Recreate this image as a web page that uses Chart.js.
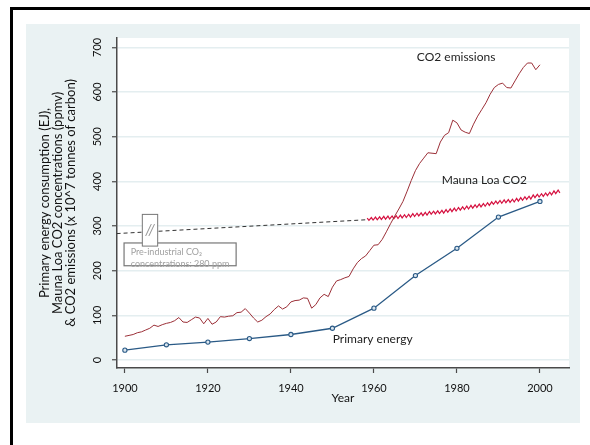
<!DOCTYPE html>
<html>
<head>
<meta charset="utf-8">
<script src="https://cdn.jsdelivr.net/npm/chart.js@4"></script>
<style>
  html, body { margin: 0; padding: 0; background: #fff; }
  #wrap { width: 590px; height: 445px; position: relative; }
</style>
</head>
<body>
<div id="wrap"><canvas id="energyChart"></canvas></div>
<script>
// Axis ticks
const xTickValues = [1900, 1920, 1940, 1960, 1980, 2000];
const yTickValues = [0, 100, 200, 300, 400, 500, 600, 700];

// Primary energy consumption (EJ), one point per decade
const energyYears = [1900, 1910, 1920, 1930, 1940, 1950, 1960, 1970, 1980, 1990, 2000];
const energyValues = [22, 34, 40, 48, 57, 71, 116, 189, 250, 320, 355];

// CO2 emissions (x 10^7 tonnes of carbon), yearly 1900-2000
const emissionsFirstYear = 1900;
const emissionsValues = [
  53, 55, 57, 61, 63, 67, 71, 78, 75, 79,
  82, 84, 88, 95, 85, 84, 90, 96, 94, 81,
  93, 80, 85, 97, 96, 98, 99, 106, 107, 115,
  105, 94, 85, 89, 97, 103, 113, 121, 114, 119,
  130, 133, 134, 139, 138, 116, 124, 139, 147, 142,
  163, 177, 180, 184, 187, 204, 218, 227, 233, 245,
  257, 258, 270, 287, 305, 322, 338, 355, 378, 402,
  424, 440, 452, 464, 463, 462, 488, 503, 509, 537,
  531, 515, 510, 507, 528, 546, 561, 576, 595, 610,
  617, 620, 610, 609, 625, 641, 655, 665, 665, 650,
  661
];

// Mauna Loa CO2 (ppmv): spring high and autumn low of each year, 1958-2004
const mlFirstYear = 1958;
const mlPeaks = [
  317.5, 318.9, 320.0, 320.6, 321.5, 322.1, 322.5, 323.0, 324.4, 325.2,
  326.3, 327.6, 328.6, 329.4, 330.6, 332.5, 333.1, 334.0, 335.0, 336.8,
  338.3, 339.9, 341.5, 343.0, 344.4, 346.0, 347.5, 348.9, 350.3, 352.0,
  354.2, 355.8, 357.1, 358.6, 359.3, 360.0, 361.7, 363.6, 365.4, 366.7,
  369.5, 371.0, 372.2, 373.9, 375.6, 378.5, 380.5
];
const mlTroughs = [
  312.5, 313.3, 313.8, 314.6, 315.2, 315.8, 316.4, 316.8, 318.1, 319.0,
  319.7, 321.3, 322.6, 323.2, 324.2, 326.5, 327.0, 328.0, 328.8, 330.7,
  332.2, 333.6, 335.6, 336.9, 338.1, 339.9, 341.5, 342.9, 344.2, 346.1,
  348.5, 349.9, 351.0, 352.1, 352.9, 353.8, 355.6, 357.6, 359.5, 360.3,
  363.6, 364.9, 366.2, 367.9, 369.9, 372.5, 374.1
];

// Pre-industrial trend line (dashed), year / ppmv
const preIndYears = [1898, 1958.2];
const preIndValues = [283, 314];

const axisColor = "#4a4a4a";
const gridColor = "#e4eef0";
const fontFamily = "Lato, 'Open Sans', sans-serif";

const emissionsPoints = emissionsValues.map((v, i) => ({ x: emissionsFirstYear + i, y: v }));
const energyPoints = energyYears.map((yr, i) => ({ x: yr, y: energyValues[i] }));
const maunaLoaPoints = [];
mlPeaks.forEach((p, i) => {
    maunaLoaPoints.push({ x: mlFirstYear + i + 0.38, y: p });
    maunaLoaPoints.push({ x: mlFirstYear + i + 0.8, y: mlTroughs[i] });
});
const preIndPoints = preIndYears.map((yr, i) => ({ x: yr, y: preIndValues[i] }));

// Background: frame, grey panel, white plot region
const backdrop = {
    id: "backdrop",
    beforeDraw(chart) {
        const { ctx, chartArea: a, width, height } = chart;
        ctx.save();
        ctx.fillStyle = "#fff";
        ctx.fillRect(0, 0, width, height);
        ctx.fillStyle = "#000";
        ctx.fillRect(10, 7, width - 10, 3);
        ctx.fillRect(10, 7, 3, height - 7);
        ctx.fillStyle = "#eaf2f3";
        ctx.fillRect(26, 24, width - 26 - 10, height - 24 - 22);
        ctx.fillStyle = "#fff";
        ctx.fillRect(a.left, a.top, a.right - a.left, a.bottom - a.top);
        ctx.restore();
    }
};

// Series labels and the pre-industrial note
const notes = {
    id: "notes",
    afterDatasetsDraw(chart) {
        const { ctx } = chart;
        const xs = v => chart.scales.x.getPixelForValue(v);
        const ys = v => chart.scales.y.getPixelForValue(v);
        ctx.save();

        ctx.fillStyle = "#222";
        ctx.font = `12px ${fontFamily}`;
        ctx.textAlign = "center";
        ctx.textBaseline = "middle";
        ctx.fillText("CO2 emissions", xs(1979.8), ys(678));
        ctx.fillText("Mauna Loa CO2", xs(1986.6), ys(403));
        ctx.fillText("Primary energy", xs(1959.7), ys(47));

        // note box
        ctx.strokeStyle = "#777";
        ctx.lineWidth = 1.2;
        ctx.strokeRect(xs(1899.8), ys(262), xs(1926.8) - xs(1899.8), ys(211) - ys(262));
        ctx.fillStyle = "#a0a0a0";
        ctx.font = `9px ${fontFamily}`;
        ctx.textAlign = "left";
        ctx.fillText("Pre-industrial CO\u2082", xs(1901.4), ys(241));
        ctx.fillText("concentrations: 280 ppm", xs(1901.4), ys(215));

        // axis break marker
        const bx = xs(1904.2), bw = xs(1907.9) - bx;
        const by = ys(326), bh = ys(255) - by;
        ctx.fillStyle = "#fff";
        ctx.fillRect(bx, by, bw, bh);
        ctx.strokeStyle = "#777";
        ctx.lineWidth = 1;
        ctx.strokeRect(bx, by, bw, bh);
        ctx.fillStyle = "#999";
        ctx.font = `italic 15px ${fontFamily}`;
        ctx.textAlign = "center";
        ctx.fillText("//", bx + bw / 2, by + bh / 2);

        ctx.restore();
    }
};

new Chart(document.getElementById("energyChart"), {
    type: "line",
    data: {
        datasets: [
            {
                label: "Primary energy",
                data: energyPoints,
                borderColor: "#2a5a86",
                borderWidth: 1.3,
                pointRadius: 2.1,
                pointBorderWidth: 1.1,
                pointBorderColor: "#2a5a86",
                pointBackgroundColor: "#dbe6ef",
                tension: 0,
                order: 0
            },
            {
                label: "CO2 emissions",
                data: emissionsPoints,
                borderColor: "#9c3038",
                borderWidth: 1,
                pointRadius: 0,
                tension: 0,
                order: 1
            },
            {
                label: "Mauna Loa CO2",
                data: maunaLoaPoints,
                borderColor: "#d5103f",
                borderWidth: 1.2,
                pointRadius: 0,
                tension: 0,
                order: 2
            },
            {
                label: "Pre-industrial",
                data: preIndPoints,
                borderColor: "#333",
                borderWidth: 1,
                borderDash: [4, 3],
                pointRadius: 0,
                order: 3
            }
        ]
    },
    options: {
        responsive: true,
        maintainAspectRatio: false,
        animation: false,
        layout: { padding: { left: 26, top: 38, right: 21, bottom: 22 } },
        plugins: {
            legend: { display: false },
            tooltip: { enabled: false }
        },
        scales: {
            x: {
                type: "linear",
                min: 1898.1,
                max: 2007,
                afterBuildTicks: s => { s.ticks = xTickValues.map(v => ({ value: v })); },
                afterFit: s => { s.height = 55; },
                grid: { drawOnChartArea: false, tickLength: 5, tickColor: axisColor, tickWidth: 1.2 },
                border: { color: axisColor, width: 1.5 },
                ticks: {
                    color: "#111",
                    font: { family: fontFamily, size: 11 },
                    padding: 9,
                    maxRotation: 0,
                    callback: v => String(v)
                },
                title: {
                    display: true,
                    text: "Year",
                    color: "#111",
                    font: { family: fontFamily, size: 12 },
                    padding: { top: 0, bottom: 18 }
                }
            },
            y: {
                type: "linear",
                min: -18,
                max: 721,
                afterBuildTicks: s => { s.ticks = yTickValues.map(v => ({ value: v })); },
                afterFit: s => { s.width = 91; },
                grid: { color: gridColor, lineWidth: 1.5, tickLength: 5, tickColor: axisColor, tickWidth: 1.2 },
                border: { color: axisColor, width: 1.5 },
                ticks: {
                    color: "#111",
                    font: { family: fontFamily, size: 11 },
                    minRotation: 90,
                    maxRotation: 90,
                    crossAlign: "center",
                    padding: 5,
                    callback: v => String(v)
                },
                title: {
                    display: true,
                    text: [
                        "Primary energy consumption (EJ),",
                        "Mauna Loa CO2 concentrations (ppmv)",
                        "& CO2 emissions (x 10^7 tonnes of carbon)"
                    ],
                    color: "#111",
                    font: { family: fontFamily, size: 13, lineHeight: 1.0 },
                    padding: { top: 12 }
                }
            }
        }
    },
    plugins: [backdrop, notes]
});
</script>
</body>
</html>
